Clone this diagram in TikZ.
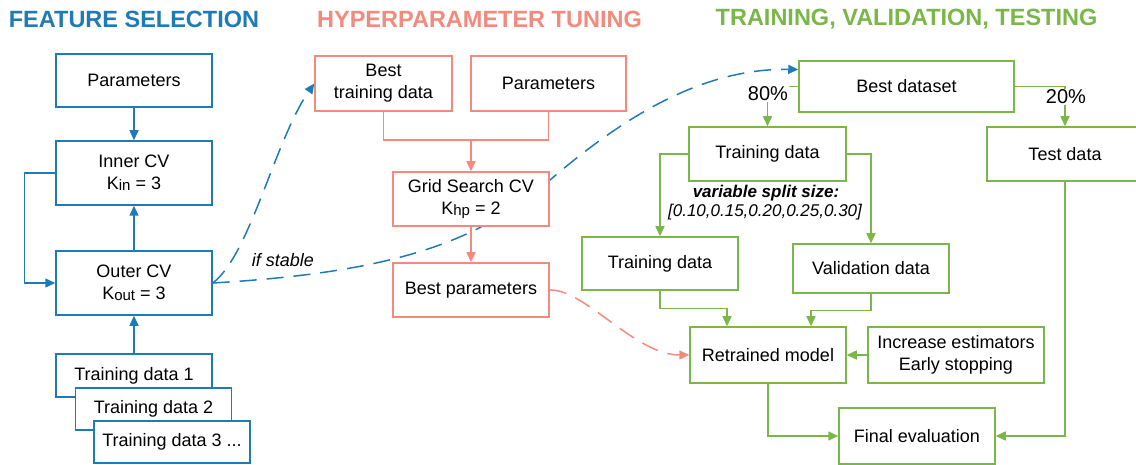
\documentclass[tikz,border=0pt]{standalone}
\usepackage{fontspec}
\setmainfont{Liberation Sans}
\usetikzlibrary{arrows.meta,backgrounds}
\definecolor{fsblue}{HTML}{1F7BB6}
\definecolor{hpred}{HTML}{F4897D}
\definecolor{tvgreen}{HTML}{7AB648}
\newcommand\mysub[1]{\raisebox{-1pt}{\fontsize{15}{15}\selectfont #1}}
\begin{document}
\begin{tikzpicture}[x=1pt,y=-1pt,
  box/.style={draw, line width=1.5pt, fill=white, inner sep=0pt, align=center,
    font=\fontsize{18}{22}\selectfont, minimum width=156pt, minimum height=54pt},
  bbox/.style={box, draw=fsblue},
  rbox/.style={box, draw=hpred},
  gbox/.style={box, draw=tvgreen},
  tip/.style={-{Triangle[length=10pt,width=9pt]}},
  barr/.style={tip, line width=1.5pt, draw=fsblue},
  rarr/.style={tip, line width=1.5pt, draw=hpred},
  garr/.style={tip, line width=1.5pt, draw=tvgreen},
  bdash/.style={barr, dash pattern=on 17pt off 10pt},
  rdash/.style={rarr, dash pattern=on 17pt off 10pt},
  title/.style={font=\fontsize{23.5}{28}\selectfont\bfseries, inner sep=0pt},
  lbl/.style={font=\fontsize{18}{22}\selectfont, inner sep=1pt},
  pct/.style={font=\fontsize{20}{24}\selectfont, inner sep=1pt, fill=white}
]
\useasboundingbox (0,0) rectangle (1136,465);

% titles
\node[title, text=fsblue] (t1) at (134,19) {FEATURE SELECTION};
\node[title, text=hpred] (t2) at (479.5,19) {HYPERPARAMETER TUNING};
\node[title, text=tvgreen] (t3) at (906.5,19) {TRAINING, VALIDATION, TESTING};

% feature selection
\node[bbox, minimum height=53pt] (bparam) at (134,80.5) {Parameters};
\node[bbox, minimum height=64pt] (inner) at (134,173) {Inner CV\\K\mysub{in} = 3};
\node[bbox, minimum height=64pt] (outer) at (134,283) {Outer CV\\K\mysub{out} = 3};
\node[bbox, minimum height=43pt] (td1) at (134,375.5) {Training data 1};
\node[bbox, minimum height=42pt] (td2) at (153.5,409) {Training data 2};
\node[bbox, minimum height=42pt] (td3) at (172,442) {Training data 3 ...};

\draw[barr] (bparam.south) -- (inner.north);
\draw[barr] (outer.north) -- (inner.south);
\draw[barr] (td1.north) -- (outer.south);
\draw[barr] (inner.west) -- ++(-31,0) |- (outer.west);

% hyperparameter tuning
\node[rbox, minimum width=137pt, minimum height=55pt] (btd) at (383.5,83.5) {Best\\training data};
\node[rbox, minimum width=155pt, minimum height=55pt] (sparam) at (548.5,83.5) {Parameters};
\node[rbox] (grid) at (471,199) {Grid Search CV\\K\mysub{hp} = 2};
\node[rbox] (bparams) at (471,290) {Best parameters};

\coordinate (j) at (471,140);
\draw[line width=1.5pt, draw=hpred] (btd.south) |- (j) -| (sparam.south);
\draw[rarr] (j) -- (grid.north);
\draw[rarr] (grid.south) -- (bparams.north);

% training, validation, testing
\node[gbox, minimum width=215pt, minimum height=51pt] (bestds) at (906.5,86.5) {Best dataset};
\node[gbox, minimum width=157pt] (trd) at (767.5,154) {Training data};
\node[gbox] (test) at (1065,154) {Test data};
\node[gbox, minimum height=53pt] (trd2) at (660,263.5) {Training data};
\node[gbox, minimum height=49pt] (val) at (871,268.5) {Validation data};
\node[gbox, minimum height=56pt] (retr) at (768,355) {Retrained model};
\node[gbox, minimum width=176pt, minimum height=56pt] (incr) at (956,355) {Increase estimators\\Early stopping};
\node[gbox, minimum height=56pt] (final) at (917,436) {Final evaluation};

\draw[garr] (bestds.west) -| (trd.north);
\draw[garr] (bestds.east) -| (test.north);
\node[pct] (p80) at (768,94) {80\%};
\node[pct] (p20) at (1066,97) {20\%};
\draw[garr] (trd.west) -| (trd2.north);
\draw[garr] (trd.east) -| (val.north);
\node[font=\fontsize{17}{20}\selectfont\bfseries\itshape, inner sep=0pt] (split1) at (766,193) {variable split size:};
\node[font=\fontsize{17}{20}\selectfont\itshape, inner sep=0pt] (split2) at (765,212) {[0.10,0.15,0.20,0.25,0.30]};
\draw[garr] (trd2.south) -- ++(0,18) -| ([xshift=-41pt]retr.north);
\draw[garr] (val.south) -- ++(0,17) -| ([xshift=43pt]retr.north);
\draw[garr] (incr.west) -- (retr.east);
\draw[garr] (retr.south) |- (final.west);
\draw[garr] (test.south) |- (final.east);

% dashed connectors
\node[lbl, font=\fontsize{18}{22}\selectfont\itshape] (stable) at (283,260) {if stable};
\begin{scope}[on background layer]
\draw[bdash] (outer.east) .. controls (250,255) and (275,140) .. (btd.west);
\draw[bdash] (outer.east) .. controls (400,272) and (480,240) .. (550,180)
   .. controls (620,120) and (700,68) .. ([yshift=17pt]bestds.west);
\draw[rdash] (bparams.east) .. controls (585,289) and (635,355) .. (retr.west);
\end{scope}
\end{tikzpicture}
\end{document}
